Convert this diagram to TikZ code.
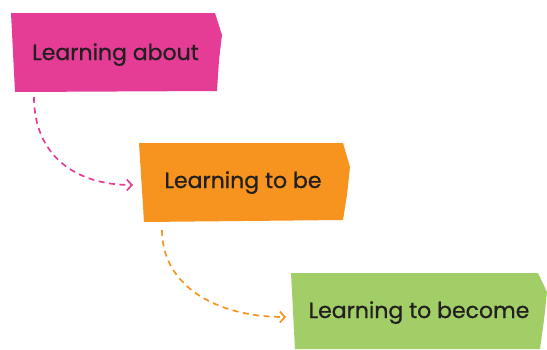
\documentclass[tikz,border=0pt]{standalone}
\usepackage{fontspec}
\setmainfont{Poppins}
\newfontfamily\lblfont{Poppins}[FakeBold=0.8]
\usetikzlibrary{arrows.meta}
\definecolor{cpink}{HTML}{E53D96}
\definecolor{corange}{HTML}{F7941F}
\definecolor{cgreen}{HTML}{A1CE66}
\definecolor{ctext}{HTML}{231F20}
\begin{document}
\begin{tikzpicture}[x=1pt,y=-1pt,
  lbl/.style={text=ctext,font=\lblfont\fontsize{22}{26}\selectfont,inner sep=0pt,anchor=base},
  conn/.style={line width=1.7pt,dash pattern=on 6pt off 4.5pt,-{Straight Barb[length=5pt,width=11pt,line width=1.7pt]}}]
\useasboundingbox (0,0) rectangle (547,349);
\fill[cpink] (11,13) -- (215,13) -- (222,35) -- (219,60) -- (217,91) -- (15,92) -- cycle;
\fill[corange] (139,143) -- (343,143) -- (350,167) -- (347,195) -- (343,220) -- (144,222) -- cycle;
\fill[cgreen] (291,273) -- (538,273) -- (547,292) -- (544,320) -- (540,349) -- (295,349) -- cycle;
\node[lbl] (a) at (115.5,60) {Learning about};
\node[lbl] (b) at (243,188) {Learning to be};
\node[lbl] (c) at (419,318) {Learning to become};
\coordinate (a1) at (34,97);
\coordinate (b0) at (133,185);
\coordinate (b1) at (162,230);
\coordinate (c0) at (286,317);
\draw[conn,cpink] (a1) .. controls (34,155) and (75,185) .. (b0);
\draw[conn,corange] (b1) .. controls (162,285) and (215,317) .. (c0);
\end{tikzpicture}
\end{document}
